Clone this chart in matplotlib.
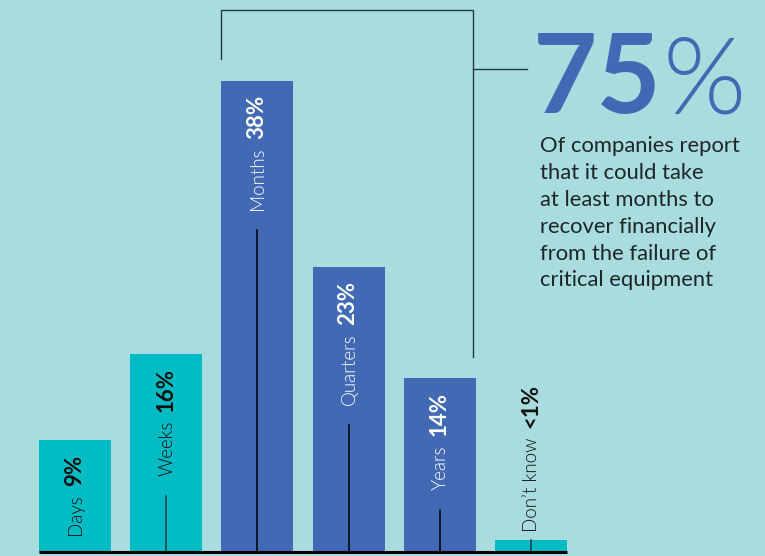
import os
import numpy as np
import matplotlib
matplotlib.use('Agg')
import matplotlib.pyplot as plt
import matplotlib.transforms as mtransforms
from matplotlib import font_manager as fm

# Data
categories = ['Days', 'Weeks', 'Months', 'Quarters', 'Years', 'Don\u2019t know']
values = [9, 16, 38, 23, 14, 1]
value_labels = ['9%', '16%', '38%', '23%', '14%', '<1%']
highlight = [False, False, True, True, True, False]

headline = '75'
description = ('Of companies report\nthat it could take\nat least months to\n'
               'recover financially\nfrom the failure of\ncritical equipment')

# Colours
BG = '#a9dcdf'
TEAL = '#00bbc4'
BLUE = '#426ab4'
LINE = '#22393d'


def light_font(size):
    # look for a real "Light" cut, not Hairline/Thin
    for fam, word in [('Lato', 'Light'), ('Roboto', 'Light'), ('Open Sans', 'Light')]:
        for f in fm.fontManager.ttflist:
            base = os.path.basename(f.fname)
            if f.name == fam and word in base and 'Italic' not in base and 'Extra' not in base:
                return fm.FontProperties(fname=f.fname, size=size)
    return fm.FontProperties(family='Lato', weight='normal', size=size)


def bold_font(size):
    return fm.FontProperties(family='Lato', weight='bold', size=size)


W, H = 765, 556
fig = plt.figure(figsize=(W / 100, H / 100), dpi=100)
fig.patch.set_facecolor(BG)
ax = fig.add_axes([0, 0, 1, 1])
ax.set_facecolor(BG)
ax.axis('off')

x = np.arange(len(categories))
bw = 0.79
ax.set_xlim(-0.8224, 7.566)
ax.set_ylim(-0.3226, 44.516)

colors = [BLUE if h else TEAL for h in highlight]
ax.bar(x, values, width=bw, color=colors, zorder=2)
ax.plot([x[0] - bw / 2, x[-1] + bw / 2], [0, 0], color='black', lw=2.2,
        solid_capstyle='butt', zorder=4)

lab_fp = light_font(13.5)
pct_fp = bold_font(16)

fig.canvas.draw()
renderer = fig.canvas.get_renderer()
ident = mtransforms.IdentityTransform()

for i, (cat, v, lab, hl) in enumerate(zip(categories, values, value_labels, highlight)):
    tcol = 'white' if hl else '#111111'
    lcol = 'black' if hl else LINE
    px, py = ax.transData.transform((x[i], v))
    bx = px + 6
    if v >= 3:
        # percentage at top inside bar, label below it
        t_pct = ax.text(bx, py - 14, lab, transform=ident, rotation=90,
                        rotation_mode='anchor', ha='right', va='baseline',
                        fontproperties=pct_fp, color=tcol, zorder=5)
        bb = t_pct.get_window_extent(renderer)
        t_lab = ax.text(bx, bb.y0 - 9, cat, transform=ident, rotation=90,
                        rotation_mode='anchor', ha='right', va='baseline',
                        fontproperties=lab_fp, color=tcol, zorder=5)
        lb = t_lab.get_window_extent(renderer)
        line_top = lb.y0 - 20
    else:
        # small bar: label sits above the bar
        t_lab = ax.text(bx, py + 8, cat, transform=ident, rotation=90,
                        rotation_mode='anchor', ha='left', va='baseline',
                        fontproperties=lab_fp, color=tcol, zorder=5)
        lb = t_lab.get_window_extent(renderer)
        ax.text(bx, lb.y1 + 9, lab, transform=ident, rotation=90,
                rotation_mode='anchor', ha='left', va='baseline',
                fontproperties=pct_fp, color=tcol, zorder=5)
        line_top = py
    y_top = ax.transData.inverted().transform((px, line_top))[1]
    if y_top > 0:
        ax.plot([x[i], x[i]], [0, min(y_top, v)], color=lcol, lw=1.1, zorder=3)

# Bracket over Months..Years
bl = x[2] - bw / 2
br = 4.364
ax.plot([bl, bl, br, br], [39.76, 43.71, 43.71, 15.73], color=LINE, lw=1.0,
        solid_joinstyle='miter', zorder=3)
ax.plot([br, 4.956], [38.95, 38.95], color=LINE, lw=1.0, zorder=3)

# Headline
t75 = fig.text(533 / W, 1 - 113 / H, headline, fontsize=80, family='Lato', weight='bold',
               color=BLUE, ha='left', va='baseline')
e75 = t75.get_window_extent(renderer)
fig.text((e75.x1 + 1) / W, 1 - 113 / H, '%', fontproperties=light_font(77),
         color=BLUE, ha='left', va='baseline')
fig.text(540 / W, 1 - 136 / H, description, fontsize=15.8, family='Lato',
         color='#1e2626', ha='left', va='top', linespacing=1.43)

fig.savefig('out.png', dpi=100, facecolor=BG)
